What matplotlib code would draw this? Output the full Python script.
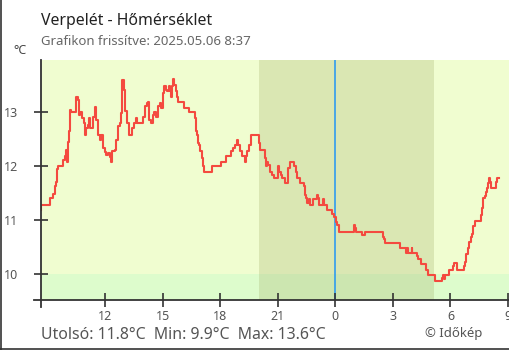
import matplotlib
matplotlib.use("Agg")
import matplotlib.pyplot as plt
from matplotlib.lines import Line2D

plt.rcParams["font.family"] = ["Noto Sans", "DejaVu Sans"]

# hours since the previous day's midnight (24 = 0:00)
hours = [
    8.67, 8.68, 9.12, 9.29, 9.38, 9.46, 9.51, 9.55, 9.81, 9.90, 9.95, 10.02,
    10.07, 10.12, 10.16, 10.21, 10.50, 10.59, 10.63, 10.71, 10.82, 10.89,
    10.94, 11.03, 11.11, 11.17, 11.23, 11.37, 11.46, 11.55, 11.63, 11.72,
    11.81, 11.90, 11.98, 12.07, 12.16, 12.24, 12.30, 12.36, 12.51, 12.59,
    12.68, 12.77, 12.85, 12.90, 12.99, 13.06, 13.15, 13.24, 13.43, 13.53,
    13.62, 13.68, 14.00, 14.08, 14.17, 14.26, 14.31, 14.40, 14.49, 14.55,
    14.66, 14.75, 14.87, 14.90, 15.01, 15.07, 15.16, 15.25, 15.32, 15.39,
    15.44, 15.49, 15.56, 15.61, 15.68, 15.74, 15.79, 16.13, 16.38, 16.69,
    16.73, 16.78, 16.83, 16.90, 16.95, 17.04, 17.12, 17.17, 17.59, 18.06,
    18.32, 18.55, 18.69, 18.77, 18.86, 18.95, 19.03, 19.12, 19.30, 19.33,
    19.42, 19.52, 19.59, 20.02, 20.08, 20.32, 20.37, 20.43, 20.51, 20.60,
    20.69, 20.81, 21.03, 21.08, 21.17, 21.24, 21.38, 21.55, 21.64, 21.86,
    21.94, 21.99, 22.16, 22.39, 22.42, 22.47, 22.54, 22.63, 22.68, 22.82,
    23.03, 23.08, 23.15, 23.34, 23.40, 23.58, 23.84, 23.93, 24.02, 24.10,
    24.18, 24.97, 25.04, 25.08, 25.39, 25.55, 26.47, 26.55, 26.61, 27.37,
    27.68, 27.75, 27.79, 27.98, 28.01, 28.24, 28.31, 28.45, 28.73, 28.85,
    29.20, 29.55, 29.60, 29.67, 29.72, 29.94, 30.13, 30.19, 30.36, 30.72,
    30.78, 30.83, 30.90, 30.98, 31.06, 31.11, 31.19, 31.28, 31.58, 31.63,
    31.68, 31.71, 31.78, 31.84, 31.89, 31.94, 32.01, 32.06, 32.11, 32.37,
    32.40, 32.55,
]
temps = [
    11.19, 11.28, 11.40, 11.49, 11.62, 11.71, 11.94, 11.99, 12.11, 12.19, 12.30, 12.08,
    12.45, 12.64, 13.04, 12.99, 13.28, 13.22, 12.94, 12.99, 12.88, 12.79,
    12.57, 12.70, 12.76, 12.88, 12.70, 12.91, 13.09, 12.85, 12.57, 12.48,
    12.57, 12.33, 12.26, 12.20, 12.24, 12.17, 12.08, 12.28, 12.30, 12.48,
    12.73, 12.79, 12.98, 13.59, 13.41, 13.01, 12.79, 12.57, 12.70, 12.79,
    12.88, 12.79, 12.91, 13.10, 13.16, 13.19, 12.85, 12.79, 12.94, 12.99,
    12.91, 13.10, 13.16, 13.08, 13.35, 13.48, 13.41, 13.39, 13.48, 13.38,
    13.28, 13.47, 13.61, 13.50, 13.38, 13.28, 13.19, 13.08, 12.99, 12.88,
    12.64, 12.57, 12.43, 12.39, 12.28, 12.14, 11.99, 11.89, 11.99, 12.08,
    12.19, 12.28, 12.33, 12.39, 12.48, 12.39, 12.28, 12.19, 12.08, 12.19,
    12.28, 12.39, 12.57, 12.42, 12.30, 12.14, 11.99, 12.08, 12.02, 11.89,
    11.83, 11.77, 11.99, 11.89, 11.83, 11.77, 11.68, 11.96, 12.08, 11.99,
    11.89, 11.77, 11.68, 11.62, 11.46, 11.40, 11.31, 11.39, 11.28, 11.39,
    11.46, 11.40, 11.28, 11.39, 11.28, 11.19, 11.12, 11.06, 10.97, 10.90,
    10.78, 10.90, 10.85, 10.78, 10.72, 10.78, 10.69, 10.65, 10.58, 10.49,
    10.39, 10.49, 10.39, 10.49, 10.39, 10.34, 10.28, 10.18, 10.07, 9.98,
    9.87, 9.92, 9.98, 9.90, 9.98, 10.07, 10.15, 10.20, 10.07, 10.14,
    10.23, 10.38, 10.49, 10.59, 10.69, 10.75, 10.88, 10.98, 11.09, 11.22,
    11.31, 11.40, 11.45, 11.52, 11.59, 11.68, 11.78, 11.71, 11.59, 11.71,
    11.78, 11.78,
]

x_ticks = [12, 15, 18, 21, 24, 27, 30, 33]
x_labels = ["12", "15", "18", "21", "0", "3", "6", "9"]
y_ticks = [10, 11, 12, 13]
night = (20.0, 29.14)
midnight = 24
cold_limit = 10

title = "Verpelét - Hőmérséklet"
subtitle = "Grafikon frissítve: 2025.05.06 8:37"
stats = "Utolsó: 11.8°C  Min: 9.9°C  Max: 13.6°C"
credit = "© Időkép"

fig = plt.figure(figsize=(5.1, 3.5), dpi=100)
ax = fig.add_axes([41 / 510, 50 / 350, 468 / 510, 240 / 350])
ax.set_xlim(8.665, 33.05)
ax.set_ylim(9.52, 13.96)
ax.set_facecolor("#f0fdd0")

# shaded bands
ax.axhspan(9.0, cold_limit, color="#ddfccc", lw=0, zorder=0)
ax.axvspan(*night, color="#9aa860", alpha=0.25, lw=0, zorder=0.5)
ax.axvline(midnight, color="#2196f3", lw=1.1, zorder=1)

ax.plot(hours, temps, drawstyle="steps-post", color="#f44a3f", lw=1.5, zorder=2)

for side in ax.spines.values():
    side.set_visible(False)
# axis lines that run a little past the corner
ax.add_line(Line2D([0, 0], [-0.03, 1], transform=ax.transAxes, color="#333333",
                   lw=1.3, clip_on=False))
ax.add_line(Line2D([-0.015, 1], [0, 0], transform=ax.transAxes, color="#333333",
                   lw=1.3, clip_on=False))

ax.set_xticks(x_ticks)
ax.set_xticklabels(x_labels)
ax.set_yticks(y_ticks)
ax.tick_params(axis="both", direction="inout", length=9.5, width=1.2,
               color="#333333", labelcolor="#555555", labelsize=9)
ax.tick_params(axis="x", pad=2.5)
ax.tick_params(axis="y", pad=12)

fig.text(41 / 510, 1 - 25 / 350, title, fontsize=11.4, color="#222222")
fig.text(41 / 510, 1 - 45 / 350, subtitle, fontsize=9.5, color="#666666")
fig.text(20 / 510, 1 - 50 / 350, "°C", fontsize=9, color="#444444",
         ha="center", va="center")
fig.text(41 / 510, 1 - 339 / 350, stats, fontsize=11.4, color="#555555")
fig.text(425 / 510, 1 - 337 / 350, credit, fontsize=9.5, color="#555555")

# frame at the left and bottom of the picture
fig.add_artist(Line2D([0.001, 0.001], [0, 1], transform=fig.transFigure,
                      color="#333333", lw=1.2))
fig.add_artist(Line2D([0, 1], [0.002, 0.002], transform=fig.transFigure,
                      color="#333333", lw=1.2))

fig.savefig("out.png", dpi=100)
